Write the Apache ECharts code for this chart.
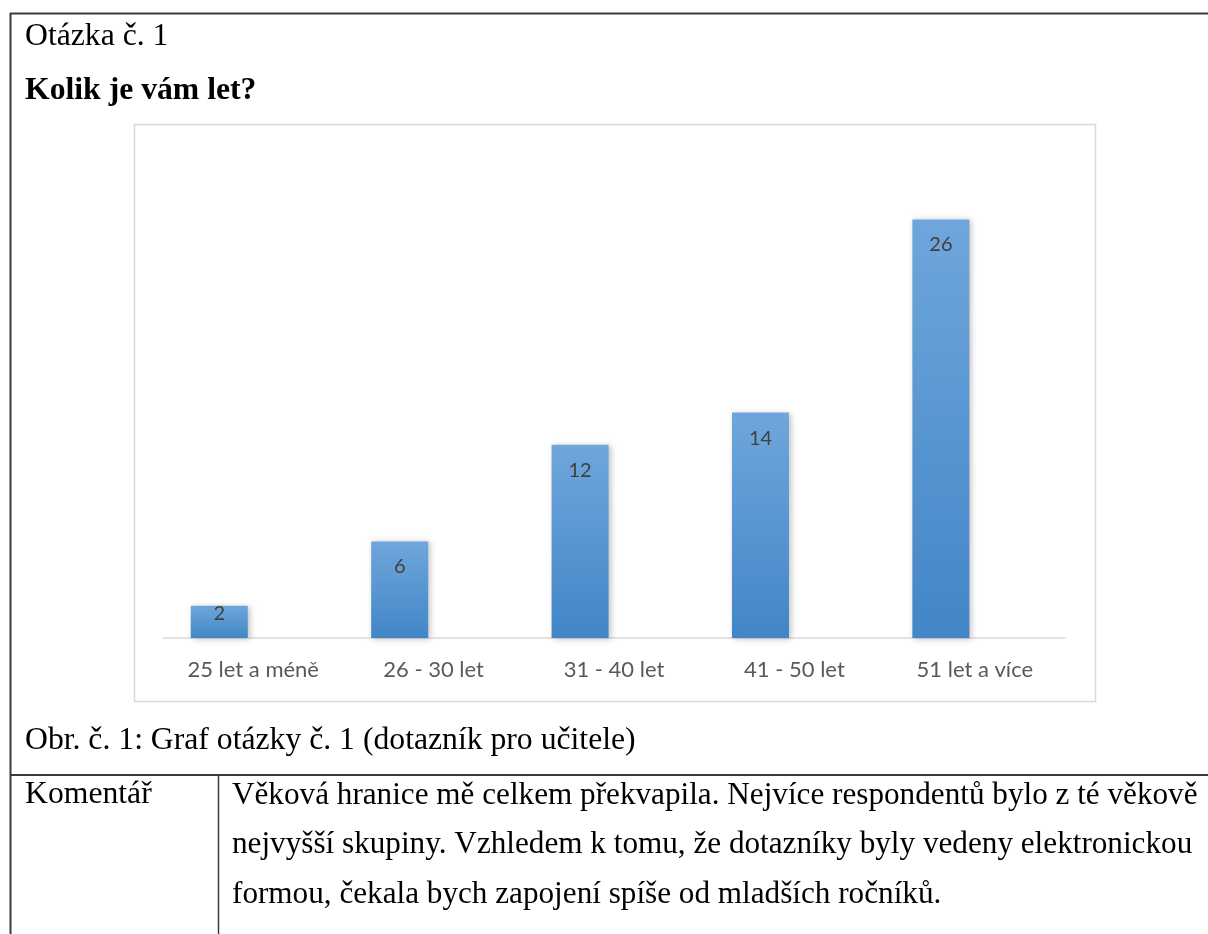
<!DOCTYPE html>
<html>
<head>
<meta charset="utf-8">
<script src="https://cdn.jsdelivr.net/npm/echarts@6/dist/echarts.min.js"></script>
<style>
html,body{margin:0;padding:0;background:#fff;}
#page{position:relative;width:1208px;height:934px;overflow:hidden;}
#chart{position:absolute;left:0;top:0;width:1208px;height:934px;}
</style>
</head>
<body>
<div id="page"><div id="chart"></div></div>
<script>
// ---- data ----
const categories = ['25 let a méně', '26 - 30 let', '31 - 40 let', '41 - 50 let', '51 let a více'];
const counts = [2, 6, 12, 14, 26];
// second (empty) series of the original Excel chart, which shifts the bars left of the category centre
const emptySeries = [null, null, null, null, null];
const yRange = [0, 30];

// ---- document texts ----
const questionLabel = 'Otázka č. 1';
const questionText = 'Kolik je vám let?';
const figureCaption = 'Obr. č. 1: Graf otázky č. 1 (dotazník pro učitele)';
const commentHeader = 'Komentář';
const commentLines = [
  'Věková hranice mě celkem překvapila. Nejvíce respondentů bylo z té věkově',
  'nejvyšší skupiny. Vzhledem k tomu, že dotazníky byly vedeny elektronickou',
  'formou, čekala bych zapojení spíše od mladších ročníků.'
];

const serif = '"Liberation Serif", "Times New Roman", serif';
const fs = 31.7;
const fsComment = 31.2;
const lineColor = '#3a3a3a';
const calibriLike = 'Lato, Carlito, Calibri, "Open Sans", sans-serif';

const graphics = [
  // chart frame
  {type:'rect', shape:{x:134.5, y:124.5, width:961, height:577}, style:{fill:'none', stroke:'#d9d9d9', lineWidth:1.5}, z:-1},
  // document table lines
  {type:'line', shape:{x1:10.5, y1:13, x2:10.5, y2:934}, style:{stroke:lineColor, lineWidth:2}},
  {type:'line', shape:{x1:10, y1:13.5, x2:1208, y2:13.5}, style:{stroke:lineColor, lineWidth:2}},
  {type:'line', shape:{x1:10, y1:775, x2:1208, y2:775}, style:{stroke:lineColor, lineWidth:2}},
  {type:'line', shape:{x1:218.5, y1:775, x2:218.5, y2:934}, style:{stroke:lineColor, lineWidth:1.5}},
  {type:'text', left:25, top:20.5, style:{text:questionLabel, font:fs + 'px ' + serif, fill:'#000'}},
  {type:'text', left:25, top:75, style:{text:questionText, font:'bold ' + fs + 'px ' + serif, fill:'#000'}},
  {type:'text', left:25, top:725, style:{text:figureCaption, font:fs + 'px ' + serif, fill:'#000'}},
  {type:'text', left:25, top:779, style:{text:commentHeader, font:fs + 'px ' + serif, fill:'#000'}}
];
commentLines.forEach((t, i) => {
  graphics.push({type:'text', left:232, top:780 + i * 49.5, style:{text:t, font:fsComment + 'px ' + serif, fill:'#000'}});
});

const chart = echarts.init(document.getElementById('chart'), null, {renderer:'canvas'});
chart.setOption({
  animation:false,
  backgroundColor:'#fff',
  grid:{left:163, right:143, top:155, bottom:296, containLabel:false},
  xAxis:{
    type:'category',
    data:categories,
    axisLine:{lineStyle:{color:'#d9d9d9', width:1.5}},
    axisTick:{show:false},
    axisLabel:{color:'#595959', fontSize:22, fontFamily:calibriLike, margin:21}
  },
  yAxis:{
    type:'value', min:yRange[0], max:yRange[1], show:false,
    splitLine:{show:false}
  },
  series:[{
    type:'bar',
    name:'Počet',
    barWidth:57,
    barGap:'19%',
    data:counts.map((v, i) => i === 0 ? {value:v, label:{distance:-2}} : v),
    itemStyle:{
      color:new echarts.graphic.LinearGradient(0,0,0,1,[
        {offset:0, color:'#6fa6dc'},
        {offset:1, color:'#4286c7'}
      ]),
      shadowColor:'rgba(0,0,0,0.25)', shadowBlur:6, shadowOffsetX:2, shadowOffsetY:1
    },
    label:{
      show:true, position:'insideTop', distance:15.5,
      color:'#404040', fontSize:20, fontFamily:calibriLike
    }
  }, {
    type:'bar',
    name:'',
    barWidth:57,
    barGap:'19%',
    data:emptySeries
  }],
  graphic:graphics
});
</script>
</body>
</html>
